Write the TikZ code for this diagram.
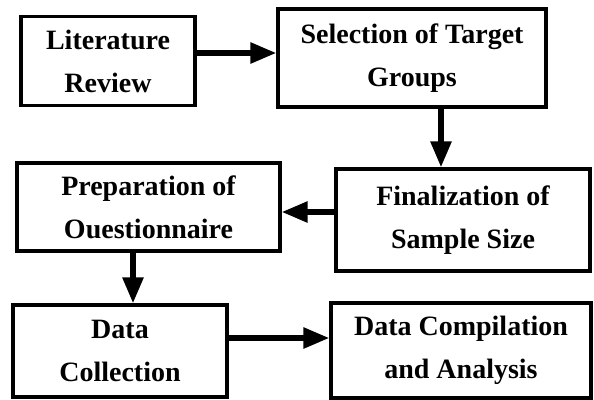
\documentclass[tikz,border=0pt]{standalone}
\usepackage{fontspec}
\setmainfont{Liberation Serif}
\usetikzlibrary{arrows.meta}

\begin{document}
\begin{tikzpicture}[x=1pt,y=-1pt,
    box/.style={draw=black, fill=white, line width=3.2pt, align=center, inner sep=2pt,
      font=\bfseries\fontsize{28}{43}\selectfont},
    arr/.style={line width=5.5pt, -{Triangle[length=26pt,width=20pt]}}]
   \useasboundingbox (0,0) rectangle (594,399);

   \node[box, minimum width=174pt, minimum height=89pt] (lit) at (108,61) {Literature\\Review};
   \node[box, minimum width=268pt, minimum height=98pt] (sel) at (412,58) {Selection of Target\\Groups};
   \node[box, minimum width=263pt, minimum height=88pt] (prep) at (148.5,207) {Preparation of\\Ouestionnaire};
   \node[box, minimum width=254pt, minimum height=102pt] (fin) at (463,220) {Finalization of\\Sample Size};
   \node[box, minimum width=214pt, minimum height=92pt] (coll) at (120,351) {Data\\Collection};
   \node[box, minimum width=260pt, minimum height=95pt] (comp) at (461,350.5) {Data Compilation\\and Analysis};

   \draw[arr] ([yshift=8pt]lit.east) -- ([yshift=8pt]lit.east -| sel.west);
   \draw[arr] ([xshift=29pt]sel.south) -- ([xshift=29pt]sel.south |- fin.north);
   \draw[arr] ([yshift=8pt]fin.west) -- ([yshift=8pt]fin.west -| prep.east);
   \draw[arr] ([xshift=-15.5pt]prep.south) -- ([xshift=-15.5pt]prep.south |- coll.north);
   \draw[arr] ([yshift=13pt]coll.east) -- ([yshift=13pt]coll.east -| comp.west);
\end{tikzpicture}
\end{document}
